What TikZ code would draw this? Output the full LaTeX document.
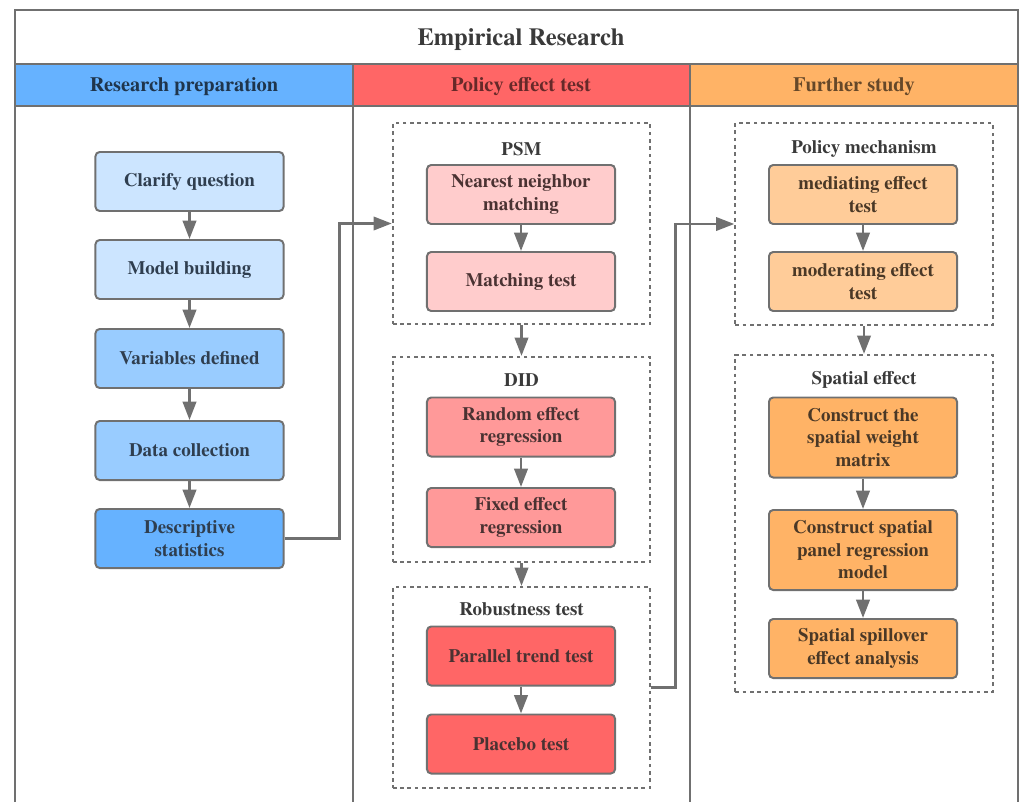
\documentclass[tikz,border=0pt]{standalone}
\usepackage{fontspec}
\setmainfont{texgyretermes}[Extension=.otf, UprightFont=*-regular, BoldFont=*-bold, ItalicFont=*-italic, BoldItalicFont=*-bolditalic]
\usepackage{xcolor}
\usetikzlibrary{arrows.meta}

\definecolor{lineg}{HTML}{707070}
\definecolor{textg}{HTML}{3A3A3A}
\definecolor{txtblue}{HTML}{2F3E4F}
\definecolor{txtred}{HTML}{4A3232}
\definecolor{txtor}{HTML}{4A3826}
\definecolor{hblue}{HTML}{66B2FF}
\definecolor{hred}{HTML}{FF6666}
\definecolor{horange}{HTML}{FFB366}
\definecolor{blueA}{HTML}{CCE5FF}
\definecolor{blueB}{HTML}{99CCFF}
\definecolor{blueC}{HTML}{66B2FF}
\definecolor{redA}{HTML}{FFCCCC}
\definecolor{redB}{HTML}{FF9999}
\definecolor{redC}{HTML}{FF6666}
\definecolor{orA}{HTML}{FFCC99}
\definecolor{orB}{HTML}{FFB366}

\begin{document}
\begin{tikzpicture}[x=0.025cm, y=-0.025cm,
    box/.style={draw=lineg, line width=1.4pt, rounded corners=3pt,
        minimum width=4.7cm, minimum height=1.475cm, align=center,
        text=textg, font=\rmfamily\bfseries\fontsize{13.5}{16}\selectfont},
    group/.style={draw=lineg, line width=1.5pt, dash pattern=on 2.6pt off 2.6pt,
        minimum width=6.43cm},
    grouplabel/.style={text=textg, font=\rmfamily\bfseries\fontsize{13.5}{16}\selectfont},
    head/.style={font=\rmfamily\bfseries\fontsize{14.5}{17}\selectfont},
    flow/.style={draw=lineg, line width=1.9pt, -{Triangle[length=13pt,width=9.5pt]}}]
    \useasboundingbox (0,0) rectangle (1030,802);

    % frame and header row
    \fill[hblue] (15,64) rectangle (353,106);
    \fill[hred] (353,64) rectangle (690,106);
    \fill[horange] (690,64) rectangle (1018,106);
    \draw[lineg, line width=1.8pt] (15,802) -- (15,10) -- (1018,10) -- (1018,802);
    \draw[lineg, line width=1.8pt] (15,64) -- (1018,64);
    \draw[lineg, line width=1.8pt] (15,106) -- (1018,106);
    \draw[lineg, line width=1.8pt] (353,64) -- (353,802);
    \draw[lineg, line width=1.8pt] (690,64) -- (690,802);

    \node[text=textg, font=\rmfamily\bfseries\fontsize{17.5}{20}\selectfont] (emp) at (521,40) {Empirical Research};
    \node[head, text=black!50!hblue!60!black] (prep) at (184,87) {Research preparation};
    \node[head, text=hred!40!black] (policy) at (521,87) {Policy effect test};
    \node[head, text=horange!40!black] (further) at (854,87) {Further study};

    % research preparation
    \node[box, fill=blueA, text=txtblue] (clarify) at (189.5,181.5) {Clarify question};
    \node[box, fill=blueA, text=txtblue] (model) at (189.5,269.5) {Model building};
    \node[box, fill=blueB, text=txtblue] (vars) at (189.5,358.5) {Variables defined};
    \node[box, fill=blueB, text=txtblue] (data) at (189.5,450.5) {Data collection};
    \node[box, fill=blueC, text=txtblue] (desc) at (189.5,538.5) {Descriptive\\statistics};

    \draw[flow] (clarify) -- (model);
    \draw[flow] (model) -- (vars);
    \draw[flow] (vars) -- (data);
    \draw[flow] (data) -- (desc);

    % policy effect test
    \node[group, minimum height=5.025cm] (psm) at (521.5,223.5) {};
    \node[grouplabel] (psmlab) at (521.5,149) {PSM};
    \node[box, fill=redA, text=txtred] (nearest) at (521,194.5) {Nearest neighbor\\matching};
    \node[box, fill=redA, text=txtred] (match) at (521,281.5) {Matching test};

    \node[group, minimum height=5.125cm] (did) at (521.5,459.5) {};
    \node[grouplabel] (didlab) at (521.5,380) {DID};
    \node[box, fill=redB, text=txtred] (random) at (521,427) {Random effect\\regression};
    \node[box, fill=redB, text=txtred] (fixed) at (521,517.5) {Fixed effect\\regression};

    \node[group, minimum height=5.025cm] (robust) at (521.5,687.5) {};
    \node[grouplabel] (robustlab) at (521.5,609) {Robustness test};
    \node[box, fill=redC, text=txtred] (parallel) at (521,656) {Parallel trend test};
    \node[box, fill=redC, text=txtred] (placebo) at (521,744) {Placebo test};

    \draw[flow] (nearest) -- (match);
    \draw[flow] (random) -- (fixed);
    \draw[flow] (parallel) -- (placebo);
    \draw[flow] (psm.south) -- (did.north);
    \draw[flow] (did.south) -- (robust.north);

    % further study
    \node[group, minimum height=5.05cm] (mech) at (864,224) {};
    \node[grouplabel] (mechlab) at (864,149) {Policy mechanism};
    \node[box, fill=orA, text=txtor] (mediate) at (863,194.5) {mediating effect\\test};
    \node[box, fill=orA, text=txtor] (moderate) at (863,281.5) {moderating effect\\test};

    \node[group, minimum height=8.425cm] (spatial) at (864,523.5) {};
    \node[grouplabel] (spatiallab) at (864,380) {Spatial effect};
    \node[box, fill=orB, text=txtor, minimum height=2cm] (weight) at (863,437.5) {Construct the\\spatial weight\\matrix};
    \node[box, fill=orB, text=txtor, minimum height=2cm] (panel) at (863,550) {Construct spatial\\panel regression\\model};
    \node[box, fill=orB, text=txtor] (spill) at (863,648.5) {Spatial spillover\\effect analysis};

    \draw[flow] (mediate) -- (moderate);
    \draw[flow] (weight) -- (panel);
    \draw[flow] (panel) -- (spill);
    \draw[flow] (mech.south) -- (spatial.north);

    % links between columns
    \draw[flow] (desc.east) -- ++(55,0) |- (psm.west);
    \draw[flow] (robust.east) -- ++(24,0) |- (mech.west);
\end{tikzpicture}
\end{document}
